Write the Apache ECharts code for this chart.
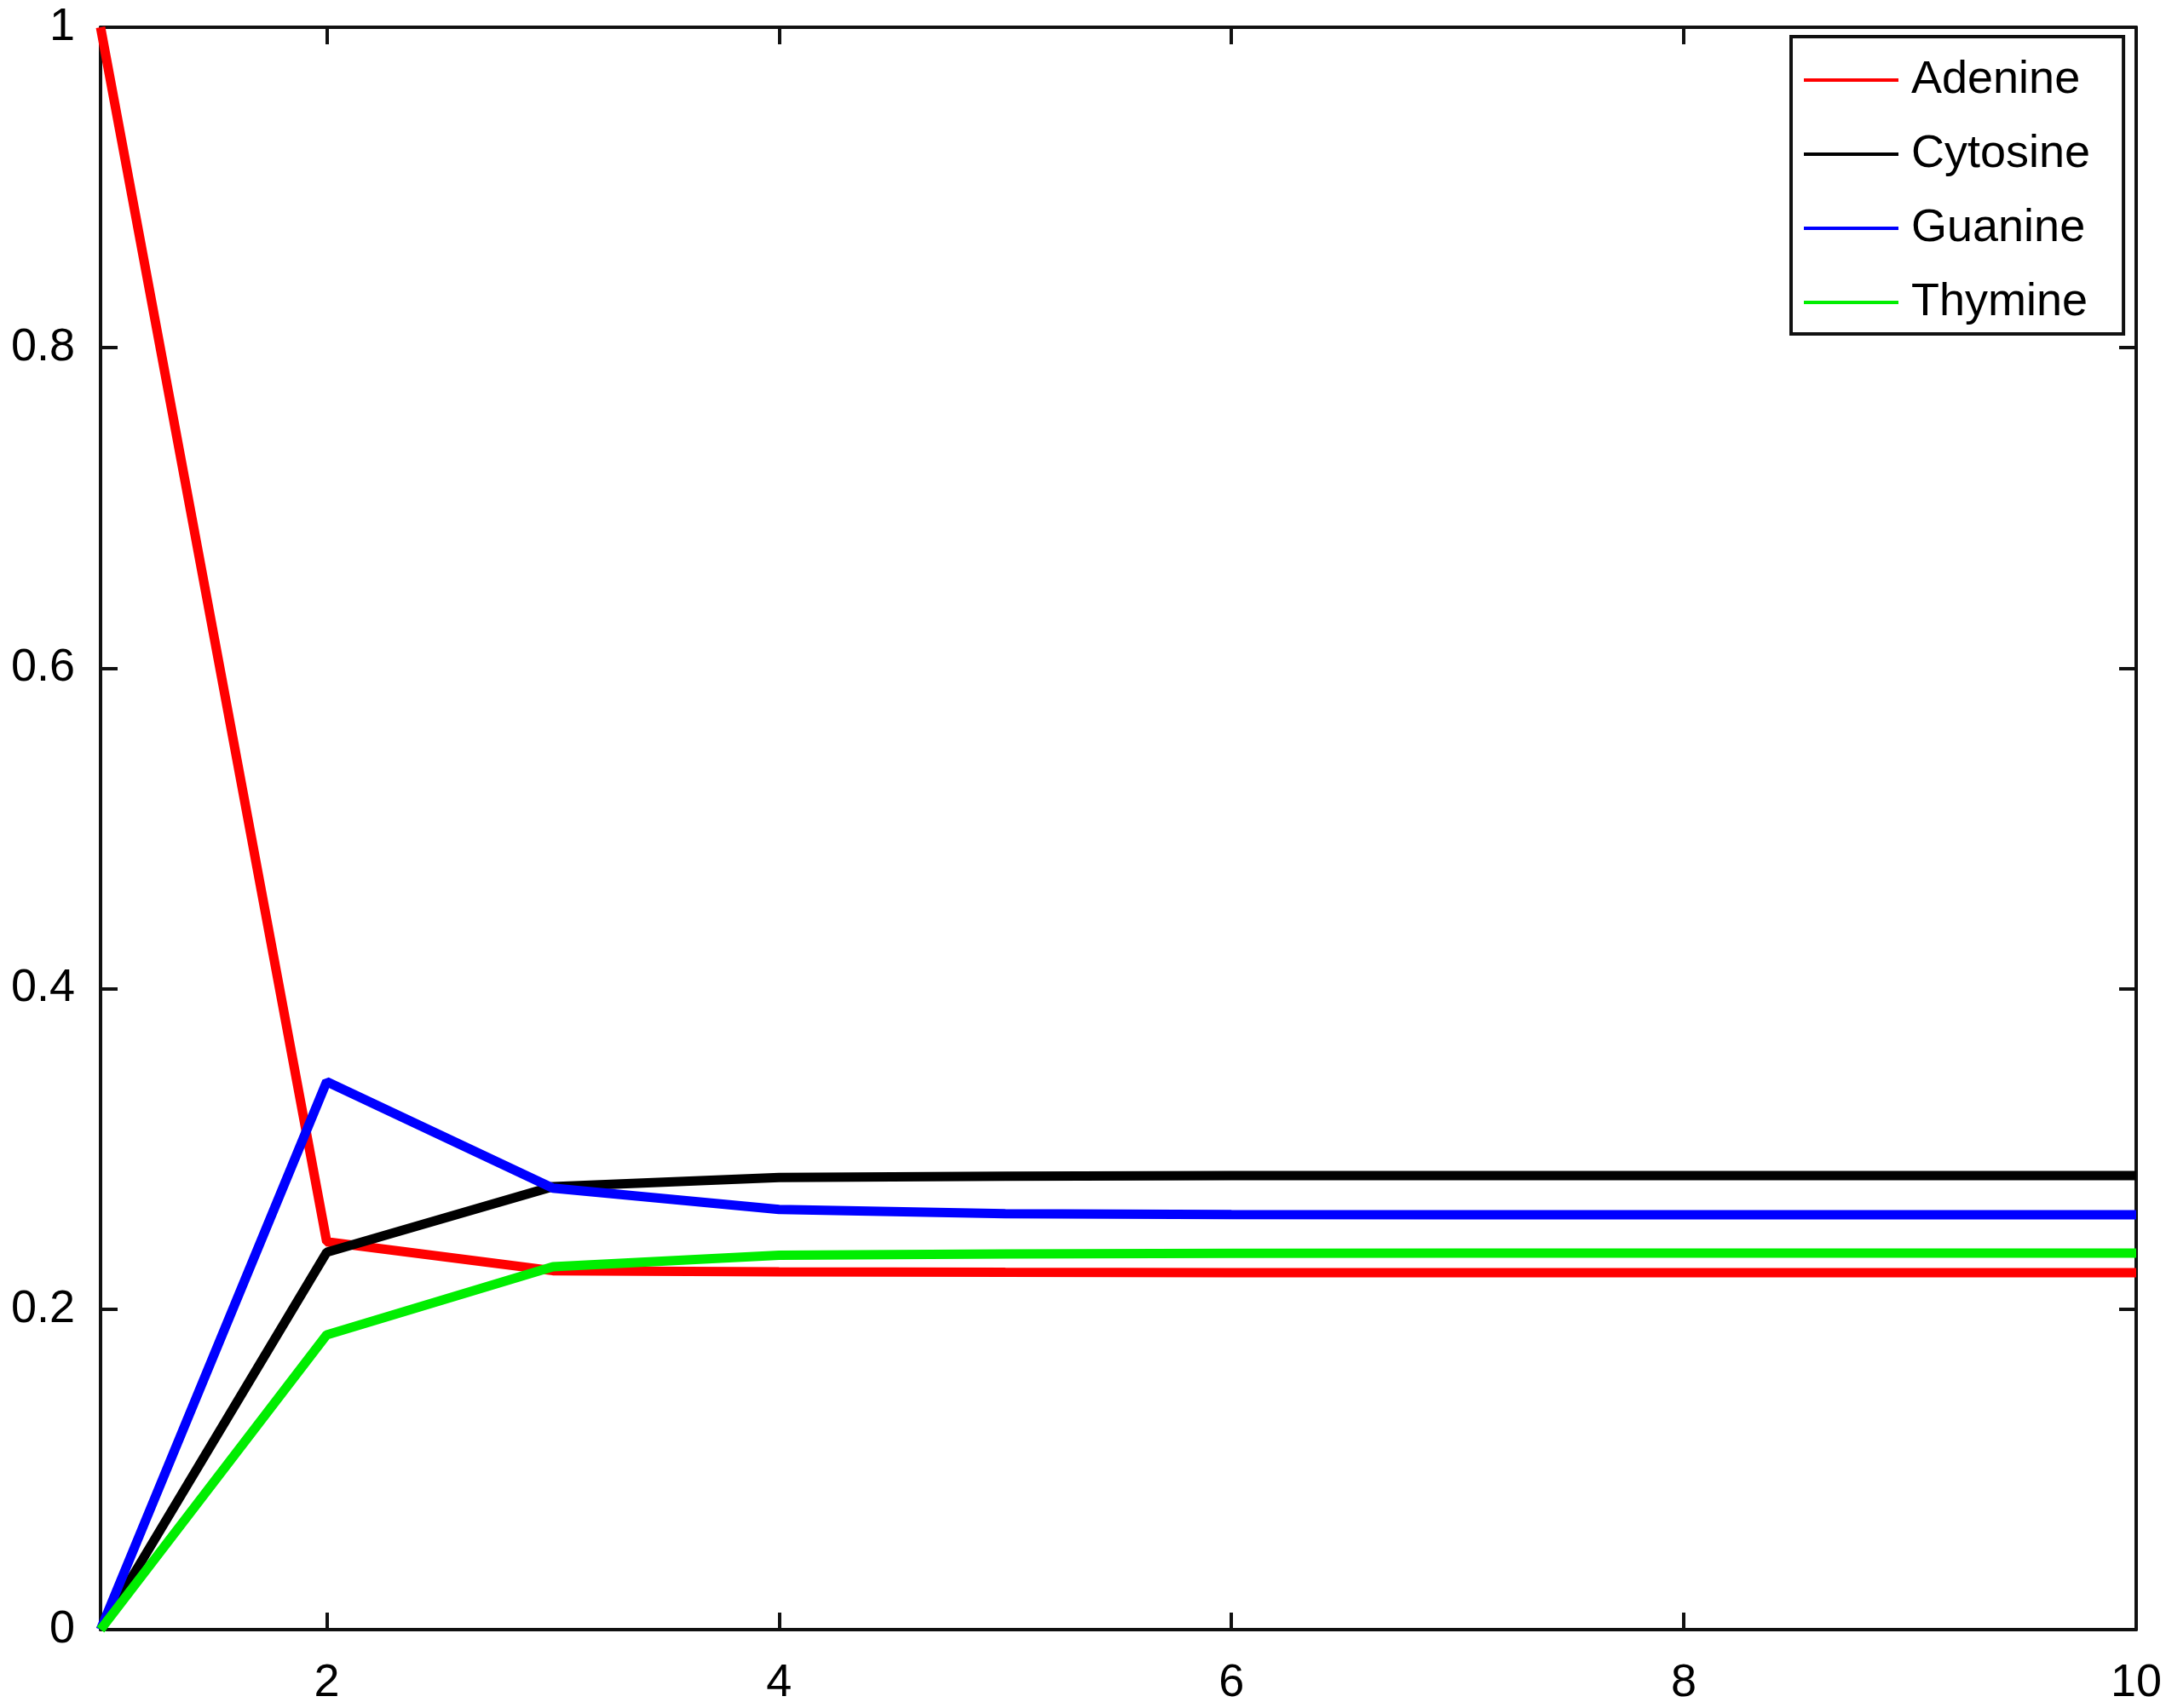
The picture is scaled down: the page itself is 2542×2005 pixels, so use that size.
<!DOCTYPE html>
<html>
<head>
<meta charset="utf-8">
<title>Nucleotide frequencies</title>
<script src="https://cdn.jsdelivr.net/npm/echarts@6/dist/echarts.min.js"></script>
<style>
  html, body { margin: 0; padding: 0; background: #fff; }
  #chart { width: 2542px; height: 2005px; }
</style>
</head>
<body>
<div id="chart"></div>
<script>
// step index on the x axis
var steps = [1, 2, 3, 4, 5, 6, 7, 8, 9, 10];
// probability of each base at each step
var adenine  = [1, 0.242, 0.224, 0.2233, 0.2230, 0.2228, 0.2228, 0.2227, 0.2227, 0.2227];
var cytosine = [0, 0.2355, 0.2765, 0.2822, 0.2830, 0.2833, 0.2834, 0.2834, 0.2834, 0.2834];
var guanine  = [0, 0.342, 0.2755, 0.2622, 0.2596, 0.2590, 0.2589, 0.2589, 0.2589, 0.2589];
var thymine  = [0, 0.184, 0.2265, 0.2337, 0.2345, 0.2349, 0.2350, 0.2350, 0.2350, 0.2350];
var names = ['Adenine', 'Cytosine', 'Guanine', 'Thymine'];
// tick labels
var xTicks = [2, 4, 6, 8, 10];
var yTicks = [0, 0.2, 0.4, 0.6, 0.8, 1];

var colors = ['#ff0000', '#000000', '#0000ff', '#00ee00'];
var values = [adenine, cytosine, guanine, thymine];

function pairs(ys) {
    return steps.map(function (x, i) { return [x, ys[i]]; });
}

var font = '"Liberation Sans", Arial, sans-serif';
var lineCol = '#111111';

function xAxisOf(pos, labels) {
    return {
        type: 'value', position: pos, min: 1, max: 10,
        axisLine: { show: true, onZero: false, lineStyle: { color: lineCol, width: 4 } },
        axisTick: { show: true, inside: true, length: 20, customValues: xTicks, lineStyle: { color: lineCol, width: 4 } },
        axisLabel: { show: labels, customValues: xTicks, margin: 36, color: '#000', fontSize: 54, fontFamily: font },
        splitLine: { show: false }
    };
}
function yAxisOf(pos, labels) {
    return {
        type: 'value', position: pos, min: 0, max: 1,
        axisLine: { show: true, onZero: false, lineStyle: { color: lineCol, width: 4 } },
        axisTick: { show: true, inside: true, length: 20, customValues: yTicks, lineStyle: { color: lineCol, width: 4 } },
        axisLabel: { show: labels, customValues: yTicks, margin: 30, color: '#000', fontSize: 54, fontFamily: font },
        splitLine: { show: false }
    };
}

var myChart = echarts.init(document.getElementById('chart'));
var option = {
    backgroundColor: '#ffffff',
    animation: false,
    color: colors,
    grid: { left: 118, right: 35, top: 32, bottom: 92, containLabel: false },
    legend: {
        orient: 'vertical',
        left: 2102, top: 43,
        data: names,
        icon: 'rect',
        itemWidth: 111, itemHeight: 4,
        itemGap: 33,
        padding: [24, 39, 10, 15],
        borderColor: lineCol, borderWidth: 4,
        backgroundColor: '#fff',
        textStyle: { color: '#000', fontSize: 54, lineHeight: 52, fontFamily: font, padding: [0, 0, 0, 10] }
    },
    xAxis: [xAxisOf('bottom', true), xAxisOf('top', false)],
    yAxis: [yAxisOf('left', true), yAxisOf('right', false)],
    series: names.map(function (n, i) {
        return {
            name: n, type: 'line',
            data: pairs(values[i]),
            showSymbol: false, symbol: 'none',
            clip: false,
            lineStyle: { width: 11, color: colors[i] },
            itemStyle: { color: colors[i] }
        };
    })
};
myChart.setOption(option);
</script>
</body>
</html>
